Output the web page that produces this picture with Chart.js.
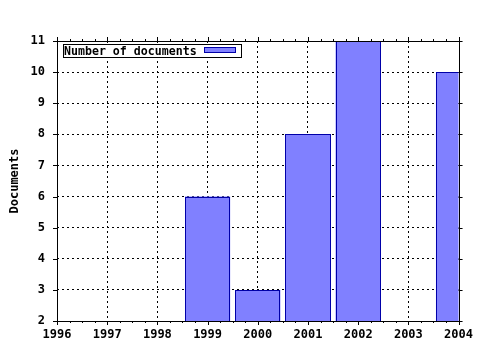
<!DOCTYPE html>
<html>
<head>
<meta charset="utf-8">
<script src="https://cdn.jsdelivr.net/npm/chart.js@4.4.1/dist/chart.umd.min.js"></script>
<style>
  html, body { margin: 0; padding: 0; background: #fff; }
  #wrap { width: 480px; height: 350px; }
</style>
</head>
<body>
<div id="wrap"><canvas id="docs"></canvas></div>
<script>
// data
const years = [1999, 2000, 2001, 2002, 2004];
const docCounts = [6, 3, 8, 11, 10];
const xTickYears = [1996, 1997, 1998, 1999, 2000, 2001, 2002, 2003, 2004];
const yTicks = [2, 3, 4, 5, 6, 7, 8, 9, 10, 11];
const seriesName = 'Number of documents';
const yTitle = 'Documents';

const FONT = 'bold 12px "DejaVu Sans Mono", "Liberation Mono", monospace';
const BAR_FILL = '#8080ff';
const BAR_EDGE = '#0000a8';

// crisp 1px outlines round each bar, clipped to the plot box
const barEdges = {
    id: 'barEdges',
    afterDatasetsDraw(chart) {
        const ctx = chart.ctx;
        const a = chart.chartArea;
        ctx.save();
        ctx.beginPath();
        ctx.rect(a.left, a.top, a.right - a.left, a.bottom - a.top);
        ctx.clip();
        ctx.strokeStyle = BAR_EDGE;
        ctx.lineWidth = 1;
        chart.getDatasetMeta(0).data.forEach(el => {
            const p = el.getProps(['x', 'y', 'base', 'width'], true);
            const l = Math.round(p.x - p.width / 2) + 0.5;
            const r = Math.round(p.x + p.width / 2) - 0.5;
            const t = Math.round(p.y) + 0.5;
            const b = Math.round(p.base) - 0.5;
            ctx.strokeRect(l, t, r - l, b - t);
        });
        ctx.restore();
    }
};

// frame, outward ticks, y title and the legend box (gnuplot look)
const gnuplotFrame = {
    id: 'gnuplotFrame',
    afterDraw(chart) {
        const ctx = chart.ctx;
        const a = chart.chartArea;
        const xs = chart.scales.x;
        const ys = chart.scales.y;
        ctx.save();
        ctx.strokeStyle = '#000';
        ctx.lineWidth = 1;
        ctx.setLineDash([]);
        ctx.strokeRect(Math.round(a.left) + 0.5, Math.round(a.top) + 0.5,
            Math.round(a.right - a.left), Math.round(a.bottom - a.top));

        ctx.beginPath();
        // x ticks, major every year, minor every quarter, mirrored on top
        for (let v = xTickYears[0]; v <= xTickYears[xTickYears.length - 1] + 0.001; v += 0.25) {
            const px = Math.round(xs.getPixelForValue(v)) + 0.5;
            const len = Math.abs(v - Math.round(v)) < 0.001 ? 4 : 2;
            ctx.moveTo(px, a.bottom); ctx.lineTo(px, a.bottom + len);
            ctx.moveTo(px, a.top); ctx.lineTo(px, a.top - len);
        }
        // y ticks, mirrored on the right
        yTicks.forEach(v => {
            const py = Math.round(ys.getPixelForValue(v)) + 0.5;
            ctx.moveTo(a.left, py); ctx.lineTo(a.left - 4, py);
            ctx.moveTo(a.right, py); ctx.lineTo(a.right + 4, py);
        });
        ctx.stroke();

        // y axis title
        ctx.font = FONT;
        ctx.fillStyle = '#000';
        ctx.save();
        ctx.translate(15, (a.top + a.bottom) / 2);
        ctx.rotate(-Math.PI / 2);
        ctx.textAlign = 'center';
        ctx.textBaseline = 'middle';
        ctx.fillText(yTitle, 0, 0);
        ctx.restore();

        // legend box
        ctx.fillStyle = '#fff';
        ctx.fillRect(63.5, 44.5, 178, 13);
        ctx.strokeRect(63.5, 44.5, 178, 13);
        ctx.fillStyle = '#000';
        ctx.font = 'bold 11.6px "DejaVu Sans Mono", "Liberation Mono", monospace';
        ctx.textAlign = 'left';
        ctx.textBaseline = 'alphabetic';
        ctx.fillText(seriesName, 64, 55);
        ctx.fillStyle = BAR_FILL;
        ctx.fillRect(204.5, 47.5, 31, 5);
        ctx.strokeStyle = BAR_EDGE;
        ctx.strokeRect(204.5, 47.5, 31, 5);
        ctx.restore();
    }
};

const ctx = document.getElementById('docs').getContext('2d');
new Chart(ctx, {
    type: 'bar',
    data: {
        datasets: [{
            label: seriesName,
            data: years.map((y, i) => ({ x: y, y: docCounts[i] })),
            backgroundColor: BAR_FILL,
            borderWidth: 0,
            barPercentage: 0.9,
            categoryPercentage: 1,
            clip: 0
        }]
    },
    options: {
        responsive: true,
        maintainAspectRatio: false,
        animation: false,
        layout: { padding: { top: 41, right: 20, left: 0, bottom: 0 } },
        plugins: {
            legend: { display: false },
            tooltip: { enabled: false }
        },
        scales: {
            x: {
                type: 'linear',
                min: 1996,
                max: 2004,
                offset: false,
                afterBuildTicks: (scale) => { scale.ticks = xTickYears.map(v => ({ value: v })); },
                afterFit: (scale) => { scale.height = 29; },
                ticks: {
                    color: '#000',
                    font: { family: '"DejaVu Sans Mono", monospace', size: 12, weight: 'bold' },
                    padding: 7,
                    maxRotation: 0,
                    autoSkip: false,
                    callback: (v) => String(v)
                },
                grid: {
                    color: (c) => (c.tick && (c.tick.value === 1996 || c.tick.value === 2004)) ? 'rgba(0,0,0,0)' : '#000',
                    drawTicks: false,
                    offset: false,
                    lineWidth: 1
                },
                border: { display: false, dash: [2, 3] }
            },
            y: {
                min: 2,
                max: 11,
                afterBuildTicks: (scale) => { scale.ticks = yTicks.map(v => ({ value: v })); },
                afterFit: (scale) => { scale.width = 57; },
                ticks: {
                    color: '#000',
                    font: { family: '"DejaVu Sans Mono", monospace', size: 12, weight: 'bold' },
                    padding: 12,
                    autoSkip: false,
                    callback: (v) => String(v)
                },
                grid: {
                    color: (c) => (c.tick && (c.tick.value === 2 || c.tick.value === 11)) ? 'rgba(0,0,0,0)' : '#000',
                    drawTicks: false,
                    lineWidth: 1
                },
                border: { display: false, dash: [2, 3] }
            }
        }
    },
    plugins: [barEdges, gnuplotFrame]
});
</script>
</body>
</html>
